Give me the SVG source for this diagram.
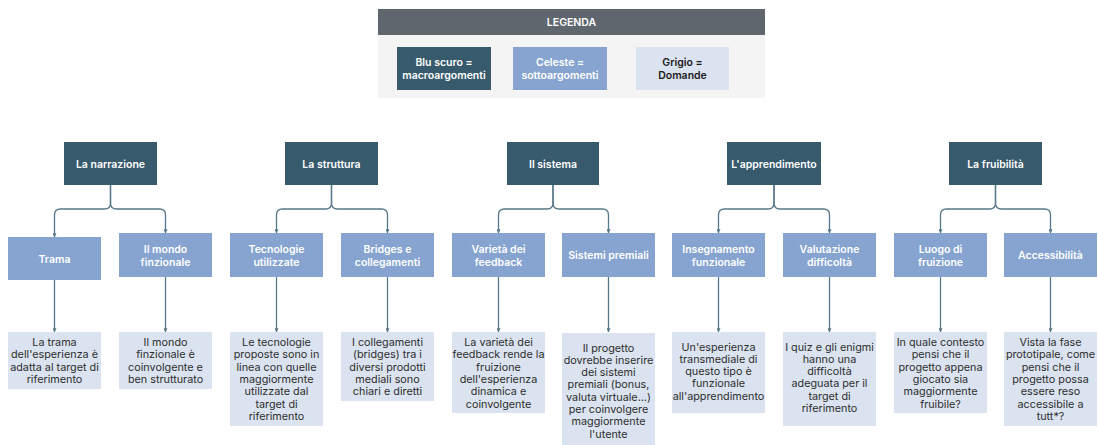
<svg xmlns="http://www.w3.org/2000/svg" width="1098" height="445" viewBox="0 0 1098 445">
<style>
text{font-family:Inter,"Noto Sans","Liberation Sans",sans-serif;text-anchor:middle;}
.macro rect{fill:#375a6c;}
.sub rect{fill:#86a4cf;}
.q rect{fill:#dbe3f0;}
.macro text,.sub text{fill:#ffffff;font-size:10.5px;font-weight:600;}
.q text{fill:#2e2e2e;font-size:10.8px;}
.lg text{font-size:10.5px;font-weight:600;}
#connectors path{fill:none;stroke:#587889;stroke-width:1.3;}
</style>
<defs>
<marker id="ah" viewBox="0 0 6 6" refX="5.5" refY="3" markerWidth="4" markerHeight="4" orient="auto" markerUnits="userSpaceOnUse">
<path d="M0,0 L6,3 L0,6 Z" fill="#587889"/>
</marker>
</defs>
<rect width="1098" height="445" fill="#ffffff"/>
<g id="legend" class="lg">
<rect x="378" y="35" width="387" height="63" fill="#f4f4f4"/>
<rect x="378" y="9" width="387" height="26" fill="#5f666e"/>
<text x="571.5" y="25.5" fill="#ffffff">LEGENDA</text>
<rect x="397" y="47" width="94" height="43" fill="#375a6c"/>
<text x="444" y="66" fill="#ffffff">Blu scuro =</text>
<text x="444" y="79" fill="#ffffff">macroargomenti</text>
<rect x="513" y="47" width="94" height="43" fill="#86a4cf"/>
<text x="560" y="66" fill="#ffffff">Celeste =</text>
<text x="560" y="79" fill="#ffffff">sottoargomenti</text>
<rect x="636" y="47" width="93" height="43" fill="#dbe3f0"/>
<text x="682.5" y="66" fill="#1a1a1a">Grigio =</text>
<text x="682.5" y="79" fill="#1a1a1a">Domande</text>
</g>
<g id="connectors">
<path d="M110.5,185 V203 Q110.5,209 104.5,209 H60.5 Q54.5,209 54.5,215 V237" marker-end="url(#ah)"/>
<path d="M110.5,185 V203 Q110.5,209 116.5,209 H159.5 Q165.5,209 165.5,215 V233" marker-end="url(#ah)"/>
<path d="M331.5,185 V203 Q331.5,209 325.5,209 H282.5 Q276.5,209 276.5,215 V233" marker-end="url(#ah)"/>
<path d="M331.5,185 V203 Q331.5,209 337.5,209 H381.5 Q387.5,209 387.5,215 V233" marker-end="url(#ah)"/>
<path d="M553,185 V203 Q553,209 547,209 H504.5 Q498.5,209 498.5,215 V233" marker-end="url(#ah)"/>
<path d="M553,185 V203 Q553,209 559,209 H602.5 Q608.5,209 608.5,215 V233" marker-end="url(#ah)"/>
<path d="M774,185 V203 Q774,209 768,209 H724.5 Q718.5,209 718.5,215 V233" marker-end="url(#ah)"/>
<path d="M774,185 V203 Q774,209 780,209 H823.5 Q829.5,209 829.5,215 V233" marker-end="url(#ah)"/>
<path d="M995.5,185 V203 Q995.5,209 989.5,209 H946.5 Q940.5,209 940.5,215 V233" marker-end="url(#ah)"/>
<path d="M995.5,185 V203 Q995.5,209 1001.5,209 H1044.5 Q1050.5,209 1050.5,215 V233" marker-end="url(#ah)"/>
<path d="M54.5,280 V332" marker-end="url(#ah)"/>
<path d="M165.5,277 V332" marker-end="url(#ah)"/>
<path d="M276.5,277 V332" marker-end="url(#ah)"/>
<path d="M387.5,277 V332" marker-end="url(#ah)"/>
<path d="M498.5,277 V332" marker-end="url(#ah)"/>
<path d="M608.5,277 V332" marker-end="url(#ah)"/>
<path d="M718.5,277 V332" marker-end="url(#ah)"/>
<path d="M829.5,277 V332" marker-end="url(#ah)"/>
<path d="M940.5,277 V332" marker-end="url(#ah)"/>
<path d="M1050.5,277 V332" marker-end="url(#ah)"/>
</g>
<g id="m-narrazione" class="macro"><rect x="64" y="142" width="93" height="43"/><text x="110.5" y="167.5">La narrazione</text></g>
<g id="m-struttura" class="macro"><rect x="285" y="142" width="93" height="43"/><text x="331.5" y="167.5">La struttura</text></g>
<g id="m-sistema" class="macro"><rect x="507" y="142" width="92" height="43"/><text x="553" y="167.5">Il sistema</text></g>
<g id="m-apprendimento" class="macro"><rect x="727" y="142" width="94" height="43"/><text x="774" y="167.5">L'apprendimento</text></g>
<g id="m-fruibilita" class="macro"><rect x="949" y="142" width="93" height="43"/><text x="995.5" y="167.5">La fruibilità</text></g>
<g id="s-trama" class="sub"><rect x="8" y="237" width="93" height="43"/><text x="54.5" y="262.5">Trama</text></g>
<g id="s-mondo" class="sub"><rect x="119" y="233" width="93" height="44"/><text x="165.5" y="253">Il mondo</text><text x="165.5" y="265.5">finzionale</text></g>
<g id="s-tecnologie" class="sub"><rect x="230" y="233" width="93" height="44"/><text x="276.5" y="253">Tecnologie</text><text x="276.5" y="265.5">utilizzate</text></g>
<g id="s-bridges" class="sub"><rect x="341" y="233" width="93" height="44"/><text x="387.5" y="253">Bridges e</text><text x="387.5" y="265.5">collegamenti</text></g>
<g id="s-varieta" class="sub"><rect x="452" y="233" width="93" height="44"/><text x="498.5" y="253">Varietà dei</text><text x="498.5" y="265.5">feedback</text></g>
<g id="s-premiali" class="sub"><rect x="562" y="233" width="93" height="44"/><text x="608.5" y="259">Sistemi premiali</text></g>
<g id="s-insegnamento" class="sub"><rect x="672" y="233" width="93" height="44"/><text x="718.5" y="253">Insegnamento</text><text x="718.5" y="265.5">funzionale</text></g>
<g id="s-valutazione" class="sub"><rect x="783" y="233" width="93" height="44"/><text x="829.5" y="253">Valutazione</text><text x="829.5" y="265.5">difficoltà</text></g>
<g id="s-luogo" class="sub"><rect x="894" y="233" width="93" height="44"/><text x="940.5" y="253">Luogo di</text><text x="940.5" y="265.5">fruizione</text></g>
<g id="s-accessibilita" class="sub"><rect x="1004" y="233" width="93" height="44"/><text x="1050.5" y="259">Accessibilità</text></g>
<g id="q-trama" class="q"><rect x="8" y="332" width="93" height="57"/>
<text x="54.5" y="346">La trama</text><text x="54.5" y="358.3">dell'esperienza è</text><text x="54.5" y="370.6">adatta al target di</text><text x="54.5" y="382.9">riferimento</text></g>
<g id="q-mondo" class="q"><rect x="119" y="332" width="93" height="57"/>
<text x="165.5" y="346">Il mondo</text><text x="165.5" y="358.3">finzionale è</text><text x="165.5" y="370.6">coinvolgente e</text><text x="165.5" y="382.9">ben strutturato</text></g>
<g id="q-tecnologie" class="q"><rect x="230" y="332" width="93" height="94"/>
<text x="276.5" y="346">Le tecnologie</text><text x="276.5" y="358.3">proposte sono in</text><text x="276.5" y="370.6">linea con quelle</text><text x="276.5" y="382.9">maggiormente</text><text x="276.5" y="395.2">utilizzate dal</text><text x="276.5" y="407.5">target di</text><text x="276.5" y="419.8">riferimento</text></g>
<g id="q-bridges" class="q"><rect x="341" y="332" width="93" height="69"/>
<text x="387.5" y="346">I collegamenti</text><text x="387.5" y="358.3">(bridges) tra i</text><text x="387.5" y="370.6">diversi prodotti</text><text x="387.5" y="382.9">mediali sono</text><text x="387.5" y="395.2">chiari e diretti</text></g>
<g id="q-varieta" class="q"><rect x="452" y="332" width="93" height="81"/>
<text x="498.5" y="346">La varietà dei</text><text x="498.5" y="358.3">feedback rende la</text><text x="498.5" y="370.6">fruizione</text><text x="498.5" y="382.9">dell'esperienza</text><text x="498.5" y="395.2">dinamica e</text><text x="498.5" y="407.5">coinvolgente</text></g>
<g id="q-premiali" class="q"><rect x="562" y="333" width="93" height="112"/>
<text x="608.5" y="351.5">Il progetto</text><text x="608.5" y="363.8">dovrebbe inserire</text><text x="608.5" y="376.1">dei sistemi</text><text x="608.5" y="388.4">premiali (bonus,</text><text x="608.5" y="400.7">valuta virtuale...)</text><text x="608.5" y="413">per coinvolgere</text><text x="608.5" y="425.3">maggiormente</text><text x="608.5" y="437.6">l'utente</text></g>
<g id="q-insegnamento" class="q"><rect x="672" y="332" width="93" height="81"/>
<text x="718.5" y="350.5">Un'esperienza</text><text x="718.5" y="362.8">transmediale di</text><text x="718.5" y="375.1">questo tipo è</text><text x="718.5" y="387.4">funzionale</text><text x="718.5" y="399.7">all'apprendimento</text></g>
<g id="q-valutazione" class="q"><rect x="783" y="332" width="93" height="94"/>
<text x="829.5" y="350.5">I quiz e gli enigmi</text><text x="829.5" y="362.8">hanno una</text><text x="829.5" y="375.1">difficoltà</text><text x="829.5" y="387.4">adeguata per il</text><text x="829.5" y="399.7">target di</text><text x="829.5" y="412">riferimento</text></g>
<g id="q-luogo" class="q"><rect x="894" y="332" width="93" height="81"/>
<text x="940.5" y="346">In quale contesto</text><text x="940.5" y="358.3">pensi che il</text><text x="940.5" y="370.6">progetto appena</text><text x="940.5" y="382.9">giocato sia</text><text x="940.5" y="395.2">maggiormente</text><text x="940.5" y="407.5">fruibile?</text></g>
<g id="q-accessibilita" class="q"><rect x="1004" y="332" width="93" height="94"/>
<text x="1050.5" y="346">Vista la fase</text><text x="1050.5" y="358.3">prototipale, come</text><text x="1050.5" y="370.6">pensi che il</text><text x="1050.5" y="382.9">progetto possa</text><text x="1050.5" y="395.2">essere reso</text><text x="1050.5" y="407.5">accessibile a</text><text x="1050.5" y="419.8">tutt*?</text></g>
</svg>
